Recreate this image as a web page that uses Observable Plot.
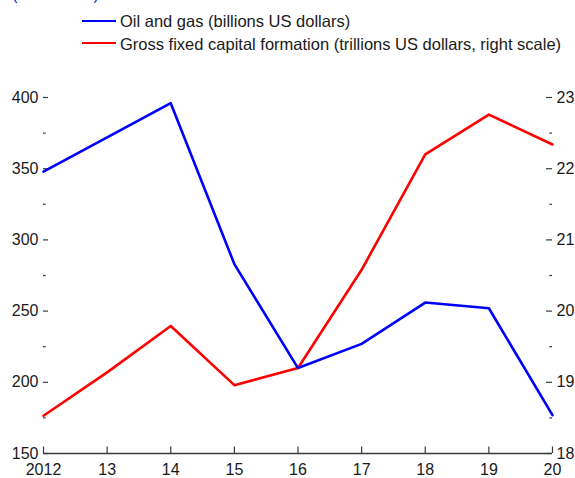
<!DOCTYPE html>
<html>
<head>
<meta charset="utf-8">
<script src="https://cdn.jsdelivr.net/npm/d3@7"></script>
<script src="https://cdn.jsdelivr.net/npm/@observablehq/plot@0.6"></script>
<style>
  html, body { margin: 0; padding: 0; background: #fff; }
  #wrap { position: relative; width: 575px; height: 478px; overflow: hidden;
          font-family: 'Liberation Sans', Arial, sans-serif; color: #1a1a1a; }
  #wrap svg { position: absolute; left: 0; top: 0; }
  .lg { position: absolute; font-size: 16.5px; line-height: 16.5px; white-space: nowrap; }
  .sw { position: absolute; height: 2px; width: 34px; }
</style>
</head>
<body>
<div id="wrap">
  <div class="lg" style="left:12px; top:-14px; color:#2222ee;">(US dollars)</div>
  <div class="sw" style="left:82px; top:20px; background:#0000ff;"></div>
  <div class="lg" style="left:120px; top:13.3px;">Oil and gas (billions US dollars)</div>
  <div class="sw" style="left:82px; top:42px; background:#ff0000;"></div>
  <div class="lg" style="left:120px; top:36px;">Gross fixed capital formation (trillions US dollars, right scale)</div>
</div>
<script>
// ---- data ----
const years = [2012, 2013, 2014, 2015, 2016, 2017, 2018, 2019, 2020];
const xTickLabels = ["2012", "13", "14", "15", "16", "17", "18", "19", "20"];
const oilGas = [348, 372, 396, 283, 210, 227, 256, 252, 177];          // billions US$, left
const gfcf = [18.53, 19.14, 19.79, 18.96, 19.2, 20.58, 22.2, 22.76, 22.34]; // trillions US$, right
const leftTicks = [150, 200, 250, 300, 350, 400];
const leftMinor = [175, 225, 275, 325, 375];
const rightTicks = [18, 19, 20, 21, 22, 23];
const rightMinor = [18.5, 19.5, 20.5, 21.5, 22.5];

// right scale (18..23) mapped onto left scale (150..400)
const toLeft = v => 150 + (v - 18) * 50;

const W = 575, H = 478, mL = 43, mR = 23, mT = 97, mB = 25;
const fw = W - mL - mR, fh = H - mT - mB;

const oilData = years.map((y, i) => ({year: y, v: oilGas[i]}));
const gfcfData = years.map((y, i) => ({year: y, v: toLeft(gfcf[i])}));

const axisColor = "#3a3a3a";

const chart = Plot.plot({
  width: W, height: H,
  marginLeft: mL, marginRight: mR, marginTop: mT, marginBottom: mB,
  x: {domain: [2012, 2020]},
  y: {domain: [150, 400]},
  style: {fontFamily: "'Liberation Sans', Arial, sans-serif", fontSize: "16px", color: "#1a1a1a", background: "transparent", overflow: "visible"},
  marks: [
    Plot.axisX({ticks: years, tickSize: 0, tickPadding: 10, label: null,
      tickFormat: d => xTickLabels[years.indexOf(d)]}),
    Plot.axisY({ticks: leftTicks, anchor: "left", tickSize: 0, tickPadding: 5, label: null,
      tickFormat: d => String(d)}),
    Plot.axisY({ticks: rightTicks.map(toLeft), anchor: "right", tickSize: 0, tickPadding: 4, label: null,
      tickFormat: d => String(rightTicks[rightTicks.map(toLeft).indexOf(d)])}),
    // x axis line and inward ticks
    Plot.ruleY([150], {stroke: axisColor, strokeWidth: 1.3}),
    Plot.tickX(years, {x: d => d, stroke: axisColor, strokeWidth: 1.2, insetTop: fh - 6.5}),
    // left ticks
    Plot.tickY(leftTicks, {y: d => d, stroke: axisColor, strokeWidth: 1.2, insetRight: fw - 5}),
    Plot.tickY(leftMinor, {y: d => d, stroke: axisColor, strokeWidth: 1.2, insetRight: fw - 2.7}),
    // right ticks
    Plot.tickY(rightTicks, {y: d => toLeft(d), stroke: axisColor, strokeWidth: 1.2, insetLeft: fw - 6}),
    Plot.tickY(rightMinor, {y: d => toLeft(d), stroke: axisColor, strokeWidth: 1.2, insetLeft: fw - 2.7}),
    // series
    Plot.line(gfcfData, {x: "year", y: "v", stroke: "#ff0000", strokeWidth: 2.6}),
    Plot.line(oilData, {x: "year", y: "v", stroke: "#0000ff", strokeWidth: 2.6})
  ]
});
document.getElementById("wrap").prepend(chart);
</script>
</body>
</html>
